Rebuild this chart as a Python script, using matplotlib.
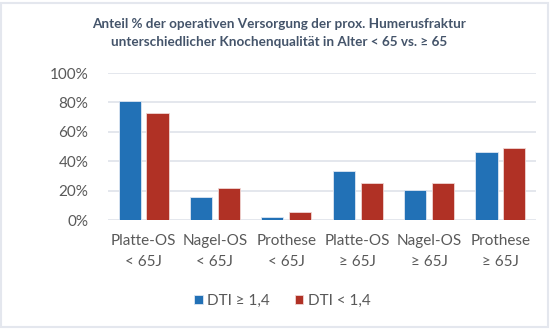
import numpy as np
import matplotlib.pyplot as plt
from matplotlib.patches import Rectangle

plt.rcParams['font.family'] = ['Lato', 'DejaVu Sans']

categories = ['Platte-OS\n< 65J', 'Nagel-OS\n< 65J', 'Prothese\n< 65J',
              'Platte-OS\n≥ 65J', 'Nagel-OS\n≥ 65J', 'Prothese\n≥ 65J']
dti_high = [0.81, 0.16, 0.022, 0.333, 0.204, 0.46]
dti_low = [0.73, 0.215, 0.052, 0.25, 0.25, 0.49]
series_names = ['DTI ≥ 1,4', 'DTI < 1,4']

blue = '#2271B6'
red = '#B03125'
txt = '#595959'

fig = plt.figure(figsize=(5.59, 3.29), dpi=100)
ax = fig.add_axes([0.193, 0.331, 0.766, 0.447])

x = np.arange(len(categories))
w = 0.31
ax.bar(x - 0.195, dti_high, w, color=blue, edgecolor='#dde6f2', linewidth=0.6,
       label=series_names[0], zorder=3)
ax.bar(x + 0.195, dti_low, w, color=red, edgecolor='#f0d6d3', linewidth=0.6,
       label=series_names[1], zorder=3)

ax.set_xlim(-0.5, 5.5)
ax.set_ylim(0, 1.0)
ax.set_yticks(np.arange(0, 1.01, 0.2))
ax.set_yticklabels([f'{int(round(v * 100))}%' for v in np.arange(0, 1.01, 0.2)])
ax.set_xticks(x)
ax.set_xticklabels(categories, linespacing=1.6)
ax.tick_params(axis='both', length=0, labelsize=11, labelcolor=txt)
ax.tick_params(axis='y', pad=14)
ax.tick_params(axis='x', pad=10)
ax.yaxis.grid(True, color='#dfe3ea', linewidth=1.2, zorder=0)
for s in ax.spines.values():
    s.set_visible(False)

fig.text(0.5, 0.90, 'Anteil % der operativen Versorgung der prox. Humerusfraktur\n'
         'unterschiedlicher Knochenqualität in Alter < 65 vs. ≥ 65',
         ha='center', va='center', fontsize=9.7, fontweight='bold',
         color='#44546A', linespacing=1.65)

leg = fig.legend(loc='center', bbox_to_anchor=(0.505, 0.085), ncol=2, frameon=False,
                 fontsize=11, handlelength=0.55, handleheight=0.55, handletextpad=0.3,
                 columnspacing=1.6)
for t in leg.get_texts():
    t.set_color(txt)

# light frame of the chart area
fig.patches.append(Rectangle((0.002, 0.006), 0.978, 0.985, transform=fig.transFigure,
                             fill=False, edgecolor='#e4e7ee', linewidth=1.5))

fig.savefig('out.png', dpi=100)
